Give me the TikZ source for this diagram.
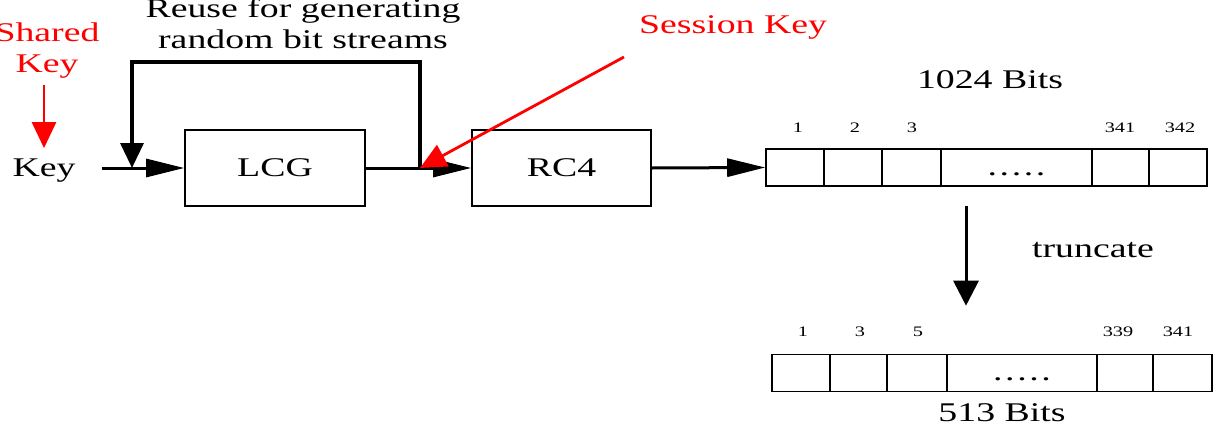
\documentclass[tikz,border=0pt]{standalone}
\usepackage{fontspec}
\setmainfont[FakeStretch=1.4]{Liberation Serif}
\usetikzlibrary{arrows.meta}
\newcommand{\celldots}{.\hspace{2.6pt}.\hspace{2.6pt}.\hspace{2.6pt}.\hspace{2.6pt}.}
\begin{document}
\begin{tikzpicture}[x=1pt,y=-1pt,
  big/.style={font=\fontsize{27}{31}\selectfont, inner sep=0pt},
  small/.style={font=\fontsize{14.5}{16}\selectfont, inner sep=0pt, anchor=base},
  blockbox/.style={draw, line width=1.8pt, minimum height=76pt, inner sep=0pt, font=\fontsize{27}{31}\selectfont},
  cell/.style={draw, line width=1.6pt, minimum height=37pt, inner sep=0pt, text height=26pt, text depth=11pt, font=\fontsize{27}{31}\selectfont},
  conn/.style={line width=3pt, -{Triangle[length=38pt,width=18pt]}},
  loopline/.style={line width=3.4pt, line join=miter, -{Triangle[length=25pt,width=23pt]}},
  downarrow/.style={line width=3pt, -{Triangle[length=25pt,width=25pt]}},
  redarrow/.style={draw=red, line width=2.8pt, -{Triangle[length=26pt,width=24pt]}, color=red}
]
\useasboundingbox (0,0) rectangle (1225,423);

% texts
\node[big, anchor=base, align=center] (reuse) at (303,48) {Reuse for generating\\random bit streams};
\node[big, text=red, anchor=base, align=center] (shared) at (47,72) {Shared\\Key};
\node[big, anchor=base] (key) at (44,176) {Key};
\node[big, text=red, anchor=base] (sk) at (733,33) {Session Key};
\node[big, anchor=base] (b1024) at (990,88) {1024 Bits};
\node[big, anchor=base] (trunc) at (1093,257) {truncate};
\node[big, anchor=base] (b513) at (1002,421) {513 Bits};

% blocks
\node[blockbox, minimum width=180pt] (lcg) at (275,168) {LCG};
\node[blockbox, minimum width=179pt] (rc4) at (561.5,168) {RC4};

% first array
\node[cell, minimum width=58pt] (a1) at (795,167.5) {};
\node[cell, minimum width=58pt] (a2) at (853,167.5) {};
\node[cell, minimum width=59pt] (a3) at (911.5,167.5) {};
\node[cell, minimum width=151pt] (a4) at (1016.5,167.5) {\celldots};
\node[cell, minimum width=57pt] (a5) at (1120.5,167.5) {};
\node[cell, minimum width=58pt] (a6) at (1178,167.5) {};
\node[small] (la1) at (798,132) {1};
\node[small] (la2) at (855,132) {2};
\node[small] (la3) at (912,132) {3};
\node[small] (la5) at (1120,132) {341};
\node[small] (la6) at (1180,132) {342};

% second array
\node[cell, minimum width=58pt] (b1) at (801,373) {};
\node[cell, minimum width=57pt] (b2) at (858.5,373) {};
\node[cell, minimum width=60pt] (b3) at (917,373) {};
\node[cell, minimum width=150pt] (b4) at (1022,373) {\celldots};
\node[cell, minimum width=56pt] (b5) at (1125,373) {};
\node[cell, minimum width=59pt] (b6) at (1182.5,373) {};
\node[small] (lb1) at (803,336) {1};
\node[small] (lb2) at (860,336) {3};
\node[small] (lb3) at (918,336) {5};
\node[small] (lb5) at (1118,336) {339};
\node[small] (lb6) at (1178,336) {341};

% helper coordinates
\coordinate (j) at (420,168);
\coordinate (k) at (132,168);
\coordinate (sks) at (624,57);
\coordinate (tr) at (966,0);
\path (key.east |- lcg.west) ++(26,0) coordinate (kstart);

% connectors
\draw[conn] (kstart) -- (lcg.west);
\draw[conn] (lcg.east) -- (rc4.west);
\draw[conn] (rc4.east) -- (a1.west);
\draw[loopline] (j) -- ++(0,-106) -| (k);
\draw[downarrow, shorten <=19pt, shorten >=48pt] (a4.south -| tr) -- (b4.north -| tr);
\draw[redarrow, shorten <=7pt, shorten >=10pt] (key.north |- shared.south) -- (key.north);
\draw[redarrow] (sks) -- (j);
\end{tikzpicture}
\end{document}
